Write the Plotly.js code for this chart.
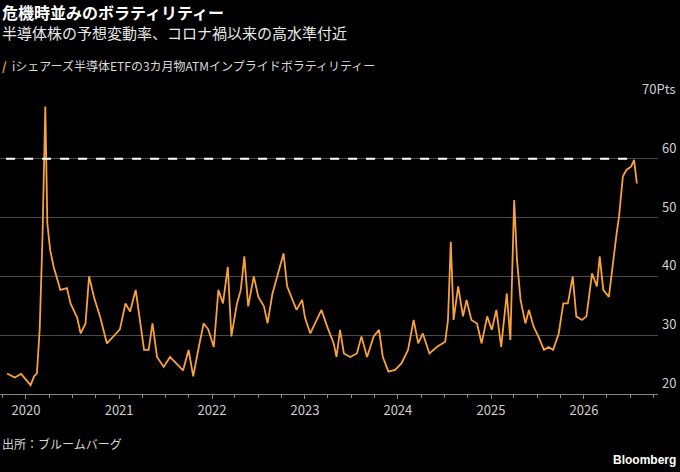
<!DOCTYPE html>
<html><head><meta charset="utf-8">
<script src="https://cdn.plot.ly/plotly-3.0.1.min.js"></script>
<style>body{margin:0;background:#000}#chart{width:680px;height:472px}</style>
</head><body><div id="chart"></div>
<script>
// decimal years, with implied volatility (Pts)
const years = [2019.80,2019.88,2019.95,2020.02,2020.05,2020.09,2020.12,2020.15,2020.18,2020.21,2020.23,2020.26,2020.30,2020.33,2020.37,2020.44,2020.48,2020.55,2020.59,2020.64,2020.68,2020.73,2020.80,2020.87,2020.94,
2021.01,2021.07,2021.12,2021.18,2021.23,2021.27,2021.32,2021.36,2021.41,2021.48,2021.55,2021.62,2021.69,2021.75,2021.80,2021.86,2021.91,2021.96,
2022.02,2022.07,2022.12,2022.17,2022.21,2022.27,2022.31,2022.35,2022.39,2022.45,2022.50,2022.56,2022.60,2022.65,2022.70,2022.77,2022.81,2022.86,2022.91,2022.97,
2023.00,2023.06,2023.11,2023.18,2023.24,2023.31,2023.34,2023.38,2023.42,2023.49,2023.56,2023.61,2023.67,2023.74,2023.80,2023.84,2023.90,2023.97,
2024.04,2024.11,2024.17,2024.22,2024.27,2024.34,2024.42,2024.51,2024.54,2024.57,2024.60,2024.65,2024.70,2024.74,2024.79,2024.85,2024.90,2024.96,
2025.01,2025.06,2025.11,2025.17,2025.21,2025.25,2025.28,2025.32,2025.37,2025.41,2025.46,2025.51,2025.57,2025.62,2025.67,2025.73,2025.78,2025.83,2025.88,2025.92,2025.98,
2026.03,2026.09,2026.14,2026.17,2026.21,2026.27,2026.31,2026.35,2026.38,2026.42,2026.46,2026.51,2026.54,2026.57];
const vol = [23.5,22.8,23.4,22.0,21.5,23.0,23.5,31,46.8,68.9,49,44.5,41.6,40,37.7,38,35.4,33,30.3,32,40,36.5,33,28.6,29.8,
31,35.4,34,37.7,32,27.5,27.5,32,26.3,24.6,26.3,25.2,24,27.5,23,28,32,31,
28,37.7,35.4,41.6,29.8,35.4,37.7,43.4,34.9,40,36.5,34.9,32,37,40,43.9,38.3,36.5,34.3,36,
33,30.3,32,34.3,31.5,28.6,26.3,30.9,26.9,26.3,26.9,29.8,26.3,29.8,30.9,26.3,23.8,24.1,
25.2,27.5,32.6,28.6,30.3,26.9,28,28.9,32.6,45.9,32.6,38.3,33.2,36,32.6,32,28.6,33.2,
30.9,34.3,28,37.1,29.2,53,42.8,36,32,34.3,31.5,29.8,27.5,28,27.5,30.3,35.4,35.4,40,33.2,32.6,
33.2,40.5,38.3,43.4,37.7,36.5,42.2,46.8,50.2,57,58.1,58.7,59.8,55.8];
const yTicks = [20, 30, 40, 50, 60, 70];
const yLabels = ['20', '30', '40', '50', '60', '70Pts'];

function toDate(y) {
  const yr = Math.floor(y);
  const start = Date.UTC(yr, 0, 1), end = Date.UTC(yr + 1, 0, 1);
  return new Date(start + (y - yr) * (end - start)).toISOString().slice(0, 10);
}
const dates = years.map(toDate);
const font = 'Noto Sans CJK JP';

const trace = {
  x: dates, y: vol, mode: 'lines',
  line: {color: '#f9a13a', width: 1.8}, hoverinfo: 'skip'
};

const annotations = yTicks.map((v, i) => ({
  xref: 'paper', yref: 'y', x: 1.03, y: v, xanchor: 'right', yanchor: 'bottom',
  text: yLabels[i], showarrow: false, font: {color: '#cfcfcf', size: 13, family: font}
}));
function txt(y, text, size, color, family) {
  return {xref: 'paper', yref: 'paper', x: 0, xshift: 0, y: y, xanchor: 'left', yanchor: 'middle',
          showarrow: false, text: text, font: {color: color, size: size, family: family || font}};
}
annotations.push(
  txt(1.30, '<b>危機時並みのボラティリティー</b>', 16, '#fff'),
  txt(1.228, '半導体株の予想変動率、コロナ禍以来の高水準付近', 15, '#e8e8e8'),
  txt(1.119, '<span style="color:#f9a13a"><b>/</b></span>  iシェアーズ半導体ETFの3カ月物ATMインプライドボラティリティー', 12, '#d8d8d8'),
  txt(-0.167, '出所：ブルームバーグ', 12, '#d8d8d8'),
  {xref: 'paper', yref: 'paper', x: 1.03, y: -0.224, xanchor: 'right', yanchor: 'middle', showarrow: false,
   text: '<b>Bloomberg</b>', font: {color: '#fff', size: 12, family: 'Liberation Sans'}}
);

const layout = {
  width: 680, height: 472,
  paper_bgcolor: '#000', plot_bgcolor: '#000',
  margin: {l: 0, r: 22, t: 100, b: 78},
  showlegend: false,
  xaxis: {
    type: 'date', range: ['2019-09-21', '2026-10-19'],
    tickvals: ['2020-01-01','2021-01-01','2022-01-01','2023-01-01','2024-01-01','2025-01-01','2026-01-01'],
    ticktext: ['2020','2021','2022','2023','2024','2025','2026'],
    ticks: 'outside', ticklen: 4, tickcolor: '#888',
    minor: {dtick: 'M3', ticks: 'outside', ticklen: 3, tickcolor: '#888', showgrid: false},
    showgrid: false, zeroline: false, showline: true, linecolor: '#888',
    tickfont: {color: '#cfcfcf', size: 13, family: font}
  },
  yaxis: {
    range: [20, 70], tickvals: yTicks, showticklabels: false,
    gridcolor: '#4a4a4a', gridwidth: 1, zeroline: false, fixedrange: true
  },
  shapes: [{
    type: 'line', xref: 'x', yref: 'y', x0: '2019-10-15', x1: '2026-07-20', y0: 60, y1: 60,
    line: {color: '#fff', width: 2, dash: 'dash'}
  }],
  annotations: annotations
};

Plotly.newPlot('chart', [trace], layout, {displayModeBar: false});
</script></body></html>
